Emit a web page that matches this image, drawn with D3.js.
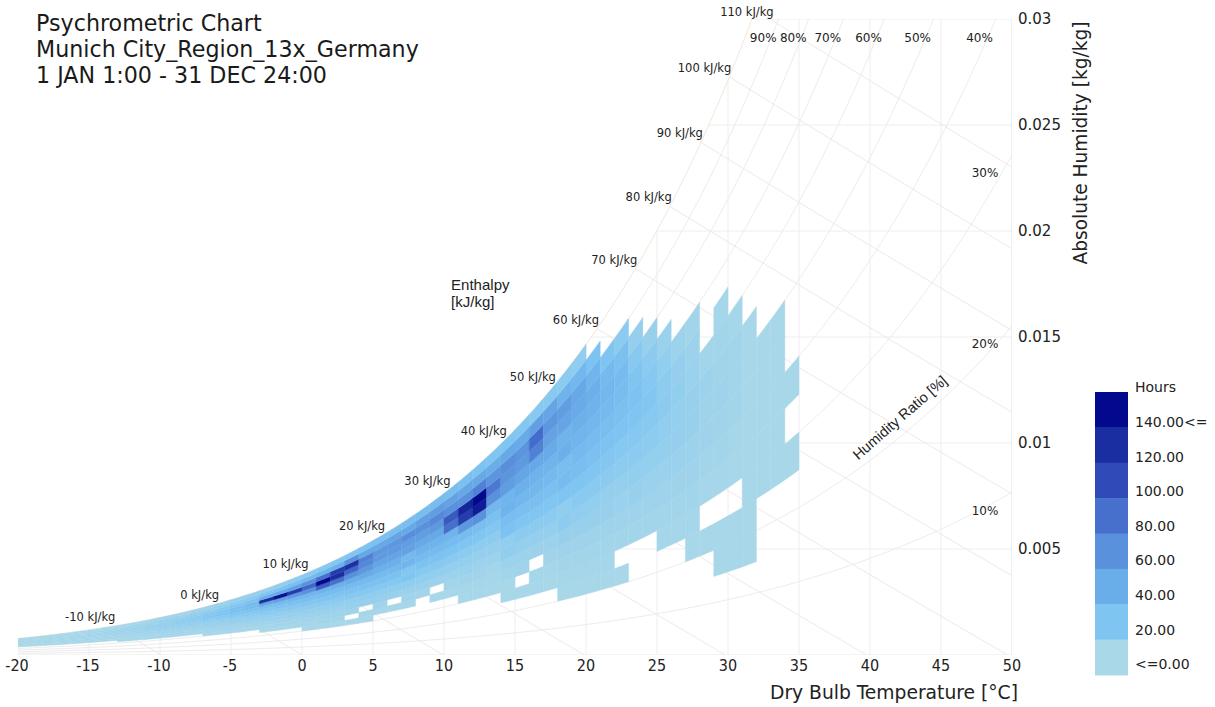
<!DOCTYPE html>
<html><head><meta charset="utf-8">
<script src="https://cdn.jsdelivr.net/npm/d3@7"></script>
<style>body{margin:0;background:#fff} svg{display:block}</style>
</head><body><svg id="c" width="1215" height="707"></svg>
<script>
// ---------------- data ----------------
const titleLines = ["Psychrometric Chart", "Munich City_Region_13x_Germany", "1 JAN 1:00 - 31 DEC 24:00"];
const tempTicks = [-20, -15, -10, -5, 0, 5, 10, 15, 20, 25, 30, 35, 40, 45, 50];
const humidTicks = [0.005, 0.01, 0.015, 0.02, 0.025, 0.03];
const humidTickLabels = ["0.005", "0.01", "0.015", "0.02", "0.025", "0.03"];
const rhLineValues = [10, 20, 30, 40, 50, 60, 70, 80, 90];
const enthalpyValues = [-10, 0, 10, 20, 30, 40, 50, 60, 70, 80, 90, 100, 110];
const legendValues = [140, 120, 100, 80, 60, 40, 20, 0];
const legendLabels = ["140.00<=", "120.00", "100.00", "80.00", "60.00", "40.00", "20.00", "<=0.00"];
const colorStops = [0, 20, 40, 60, 80, 100, 120, 140];
const colorRange = ["#a9d8e8", "#7fc5f2", "#6aaee9", "#5a91dc", "#4670cc", "#2e4bb7", "#1b2ea1", "#03098c"];
const rhBinSize = 5; // % relative humidity per cell
// dry bulb temperature of each 1 degC column (left edge)
const columnTemps = [-20,-19,-18,-17,-16,-15,-14,-13,-12,-11,-10,-9,-8,-7,-6,-5,-4,-3,-2,-1,
  0,1,2,3,4,5,6,7,8,9,10,11,12,13,14,15,16,17,18,19,20,21,22,23,24,25,26,27,28,29,30,31,32,33,34];
// index of lowest 5% RH bin in each column
const columnLowBin = [10,10,10,10,10,10,10,9,9,9,9,9,9,8,8,8,8,7,7,7,
  6,6,6,6,6,7,7,7,8,7,7,6,6,6,5,5,5,5,4,4,4,4,4,6,6,5,5,4,4,3,3,3,5,5,5];
// hours per RH bin, starting at columnLowBin
const columnHours = [
  [1,1,1,1,1,1,1,1,1,1],
  [1,1,1,1,1,2,1,1,1,1],
  [1,1,1,2,2,2,2,1,1,1],
  [1,1,2,2,2,3,2,2,1,1],
  [1,2,2,2,3,3,3,2,2,1],
  [1,2,2,3,3,4,4,3,2,1],
  [2,2,3,3,4,5,5,4,3,2],
  [1,2,2,3,4,5,6,6,5,3,2],
  [1,2,3,4,5,6,7,7,6,4,2],
  [1,2,3,4,6,7,9,9,7,5,3],
  [2,3,4,5,7,9,11,11,9,6,4],
  [2,3,4,6,8,10,13,13,10,7,4],
  [2,3,5,7,9,12,15,15,12,8,5],
  [1,2,4,6,8,11,14,18,18,14,9,6],
  [1,3,4,7,9,12,16,20,21,16,11,7],
  [2,3,5,8,11,14,19,24,25,19,13,8],
  [2,4,6,9,12,16,22,28,30,23,15,9],
  [1,2,4,7,10,14,19,26,45,120,38,20,10],
  [1,3,5,7,11,15,21,28,50,135,42,22,12],
  [2,3,5,8,12,17,23,31,55,110,48,25,13],
  [1,2,4,6,9,13,18,25,33,60,85,60,30,15],
  [1,3,4,7,10,14,20,27,36,90,150,80,34,17],
  [1,3,5,7,11,15,21,28,38,80,120,110,38,18],
  [1,0,5,8,11,16,22,29,40,60,85,118,60,19],
  [1,2,0,8,12,17,23,30,42,55,65,70,45,22],
  [2,4,8,12,17,23,30,38,46,54,55,44,24],
  [1,0,8,12,17,23,30,38,46,54,56,46,25],
  [2,4,7,12,20,18,34,30,48,52,62,44,26],
  [3,7,11,16,22,29,36,44,52,60,50,27],
  [1,0,6,11,16,22,29,36,44,55,65,52,28],
  [1,3,6,10,15,21,28,35,80,92,60,48,26],
  [1,2,4,7,10,14,20,27,55,110,125,60,45,24],
  [1,2,4,6,9,13,19,26,60,130,152,70,44,22],
  [1,2,3,6,9,13,18,24,31,60,75,58,40,20],
  [1,1,3,6,12,11,22,26,36,34,52,58,62,44,20],
  [1,0,4,6,10,14,19,25,32,38,46,54,58,42,18],
  [1,2,0,6,10,14,19,25,31,36,44,70,82,50,16],
  [1,2,4,6,10,14,19,24,30,35,42,48,56,46,16],
  [1,2,3,5,8,13,12,20,28,26,38,36,46,52,36,14],
  [1,2,3,5,8,12,15,20,26,30,34,38,42,44,32,12],
  [1,2,3,5,8,11,15,19,24,28,32,36,38,34,22],
  [1,2,3,5,8,10,14,18,22,26,30,32,30,20],
  [1,0,3,5,7,10,13,17,21,24,27,28,24,14],
  [3,5,8,11,14,17,20,22,20,16,9],
  [3,5,7,10,13,16,18,17,14,8],
  [2,3,5,7,10,12,14,13,11,7],
  [2,3,5,7,9,10,11,9,6],
  [1,2,3,5,6,8,8,7,6,3],
  [1,0,2,3,5,5,6,3],
  [1,1,0,2,3,4,5,4,3,2],
  [1,1,0,1,2,3,3,3,2],
  [1,1,1,1,1,1,1,1],
  [1,1,1,1,1],
  [1,1,1,1,1],
  [1,0,1]
];

// ---------------- psychrometrics ----------------
const P = 101325;
const psat = T => 611.2 * Math.exp(17.62 * T / (243.12 + T));
const wOf = (T, rh) => { const pv = rh * psat(T); return 0.622 * pv / (P - pv); };
const hOf = (T, w) => 1.006 * T + w * (2501 + 1.86 * T);
function bisect(f, lo, hi) { // f increasing, find root
  for (let i = 0; i < 60; i++) { const m = (lo + hi) / 2; if (f(m) > 0) hi = m; else lo = m; }
  return (lo + hi) / 2;
}

// ---------------- setup ----------------
const svg = d3.select("#c");
const x = d3.scaleLinear().domain([-20, 50]).range([18, 1012]);
const y = d3.scaleLinear().domain([0, 0.03]).range([655, 19]);
const color = d3.scaleLinear().domain(colorStops).range(colorRange).clamp(true);
const line = d3.line().x(d => x(d[0])).y(d => y(d[1]));
const SANS = "'DejaVu Sans', Verdana, sans-serif";
const NARROW = "'Liberation Sans Narrow', 'Arial Narrow', 'DejaVu Sans Condensed', sans-serif";

svg.append("defs").append("clipPath").attr("id", "plot")
  .append("rect").attr("x", x(-20)).attr("y", y(0.03)).attr("width", x(50) - x(-20)).attr("height", y(0) - y(0.03));

const bg = svg.append("g").attr("clip-path", "url(#plot)").attr("fill", "none");

// vertical temperature grid lines (up to saturation)
tempTicks.forEach(T => {
  bg.append("path").attr("d", line([[T, 0], [T, Math.min(wOf(T, 1), 0.03)]]))
    .attr("stroke", "#eeeeee").attr("stroke-width", 1);
});
// horizontal humidity grid lines (from saturation to right edge)
humidTicks.forEach(w => {
  const Ts = bisect(T => wOf(T, 1) - w, -20, 60);
  bg.append("path").attr("d", line([[Ts, w], [50, w]]))
    .attr("stroke", "#eeeeee").attr("stroke-width", 1);
});
// bottom and right frame
bg.append("path").attr("d", line([[-20, 0], [50, 0], [50, 0.03]])).attr("stroke", "#e8e8e8");

// relative humidity curves
const Tsteps = d3.range(-20, 50.01, 0.25);
rhLineValues.concat([100]).forEach(rh => {
  bg.append("path").attr("d", line(Tsteps.map(T => [T, wOf(T, rh / 100)])))
    .attr("stroke", rh === 100 ? "#f5e6da" : "#ececec").attr("stroke-width", 1);
});
// enthalpy lines
const enthalpyPts = enthalpyValues.map(h => {
  const Ts = bisect(T => hOf(T, wOf(T, 1)) - h, -40, 60);
  const ws = wOf(Ts, 1);
  const pts = d3.range(0, 1.0001, 0.05).map(f => {
    const w = ws * (1 - f);
    return [(h - 2501 * w) / (1.006 + 1.86 * w), w];
  });
  bg.append("path").attr("d", line(pts)).attr("stroke", "#f2e8e4").attr("stroke-width", 1);
  return { h, Ts, ws };
});

// ---------------- heat map cells ----------------
const cells = svg.append("g").attr("clip-path", "url(#plot)");
columnTemps.forEach((T0, ci) => {
  columnHours[ci].forEach((v, j) => {
    if (v <= 0) return;
    const k = columnLowBin[ci] + j;
    const r0 = k * rhBinSize / 100, r1 = (k + 1) * rhBinSize / 100;
    const ts = d3.range(0, 1.0001, 0.25).map(f => T0 + f);
    const pts = ts.map(t => [t, wOf(t, r0)]).concat(ts.slice().reverse().map(t => [t, wOf(t, r1)]));
    cells.append("path").attr("d", line(pts) + "Z")
      .attr("fill", color(v)).attr("stroke", color(v)).attr("stroke-width", 0.4);
  });
});

// ---------------- labels ----------------
// title
svg.append("g").selectAll("text").data(titleLines).join("text")
  .attr("x", 36).attr("y", (d, i) => 31 + i * 26)
  .attr("font-family", SANS).attr("font-size", 22.2).attr("fill", "#1a1a1a").text(d => d);

// enthalpy labels
const lab = svg.append("g").attr("font-family", SANS).attr("font-size", 11.5).attr("fill", "#222");
enthalpyPts.forEach(({ h, Ts, ws }) => {
  let lx, ly;
  if (ws > 0.03) {
    const Tt = (h - 2501 * 0.03) / (1.006 + 1.86 * 0.03);
    lx = x(Tt) + 4; ly = y(0.03) - 7;
  } else { lx = x(Ts) + 2; ly = y(ws) - 9; }
  lab.append("text").attr("x", lx).attr("y", ly).attr("dy", "0.35em")
    .attr("text-anchor", "end").text(h + " kJ/kg");
});
// relative humidity labels
const rhLab = svg.append("g").attr("font-family", SANS).attr("font-size", 12).attr("fill", "#222");
rhLineValues.forEach(rh => {
  const wEnd = wOf(50, rh / 100);
  if (wEnd > 0.03) {
    const wl = y.invert(38);
    const Tl = bisect(T => wOf(T, rh / 100) - wl, -20, 60);
    rhLab.append("text").attr("x", x(Tl) - 8).attr("y", y(wl)).attr("dy", "0.35em")
      .attr("text-anchor", "middle").text(rh + "%");
  } else {
    rhLab.append("text").attr("x", x(48.1)).attr("y", y(wEnd) + 18).attr("dy", "0.35em")
      .attr("text-anchor", "middle").text(rh + "%");
  }
});
// chart annotations
svg.append("text").attr("font-family", "'Liberation Sans', Arial, sans-serif").attr("font-size", 15).attr("fill", "#222")
  .selectAll("tspan").data(["Enthalpy", "[kJ/kg]"]).join("tspan")
  .attr("x", x(10.5)).attr("y", (d, i) => y(0.0172) + i * 17).text(d => d);
svg.append("text").attr("font-family", "'Liberation Sans', Arial, sans-serif").attr("font-size", 14.5).attr("fill", "#222")
  .attr("text-anchor", "middle")
  .attr("transform", `translate(${x(42.1)},${y(0.0112)}) rotate(-41)`).attr("dy", "0.35em")
  .text("Humidity Ratio [%]");

// x axis tick labels
svg.append("g").selectAll("text").data(tempTicks).join("text")
  .attr("x", d => x(d) + (d < 0 ? -1 : 0)).attr("y", 671).attr("text-anchor", "middle")
  .attr("font-family", NARROW).attr("font-size", 16).attr("fill", "#222").text(d => d);
svg.append("text").attr("x", 1018).attr("y", 699).attr("text-anchor", "end")
  .attr("font-family", NARROW).attr("font-size", 20).attr("fill", "#222")
  .attr("textLength", 248).attr("lengthAdjust", "spacingAndGlyphs")
  .text("Dry Bulb Temperature [°C]");
// y axis tick labels (right)
svg.append("g").selectAll("text").data(humidTicks).join("text")
  .attr("x", 1018).attr("y", d => y(d)).attr("dy", "0.35em")
  .attr("font-family", SANS).attr("font-size", 15).attr("fill", "#222")
  .text((d, i) => humidTickLabels[i]);
svg.append("text").attr("transform", "translate(1087,143) rotate(-90)").attr("text-anchor", "middle")
  .attr("font-family", NARROW).attr("font-size", 20).attr("fill", "#222")
  .attr("textLength", 243).attr("lengthAdjust", "spacingAndGlyphs")
  .text("Absolute Humidity [kg/kg]");

// ---------------- legend ----------------
const lg = svg.append("g");
const bandH = (675 - 392) / legendValues.length;
lg.selectAll("rect").data(legendValues).join("rect")
  .attr("x", 1095).attr("y", (d, i) => 392 + i * bandH).attr("width", 33).attr("height", bandH + 0.5)
  .attr("fill", d => color(d));
lg.append("text").attr("x", 1135).attr("y", 387).attr("dy", "0.35em")
  .attr("font-family", SANS).attr("font-size", 14).attr("fill", "#222").text("Hours");
lg.selectAll("text.v").data(legendLabels).join("text").attr("class", "v")
  .attr("x", 1135).attr("y", (d, i) => 422 + i * 34.6).attr("dy", "0.35em")
  .attr("font-family", SANS).attr("font-size", 14).attr("fill", "#222").text(d => d);
</script>
</body></html>
